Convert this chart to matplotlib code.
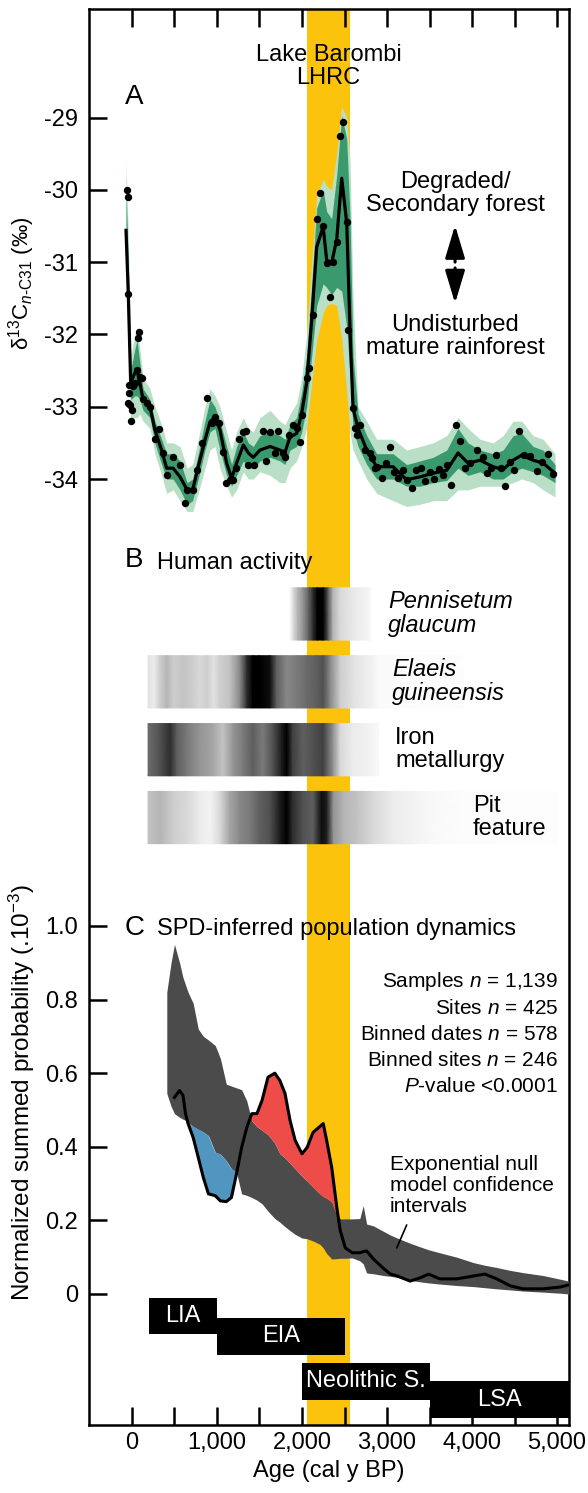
import numpy as np
import matplotlib.pyplot as plt

plt.rcParams['font.family'] = ['Liberation Sans', 'DejaVu Sans']
plt.rcParams['mathtext.fontset'] = 'custom'
plt.rcParams['mathtext.rm'] = 'Liberation Sans'
plt.rcParams['mathtext.it'] = 'Liberation Sans:italic'
plt.rcParams['axes.unicode_minus'] = False

# ---- panel A: leaf-wax d13C record -------------------------------------
yrs_a = [-70, -43, -15, 35, 60, 94, 130, 212, 270, 349, 408, 484, 565, 649, 714,
         780, 859, 918, 976, 1035, 1114, 1172, 1231, 1310, 1369, 1427, 1506, 1624,
         1741, 1800, 1859, 1937, 1996, 2055, 2114, 2173, 2249, 2290, 2349, 2408,
         2467, 2526, 2565, 2600, 2659, 2761, 2878, 3071, 3231, 3388, 3541, 3702,
         3835, 3953, 4094, 4247, 4365, 4482, 4584, 4718, 4835, 4976]
mean_a = [-30.56, -31.43, -32.67, -32.53, -32.5, -32.67, -32.9, -33.0, -33.32, -33.6,
          -33.85, -33.85, -33.97, -34.15, -34.15, -33.83, -33.46, -33.21, -33.14, -33.32,
          -33.78, -33.99, -33.78, -33.53, -33.64, -33.7, -33.6, -33.55, -33.6, -33.63,
          -33.42, -33.37, -33.09, -32.67, -31.8, -30.79, -30.51, -30.97, -31.01, -30.69,
          -29.84, -30.46, -31.94, -33.02, -33.3, -33.6, -33.83, -33.83, -34.01, -33.97,
          -33.92, -33.88, -33.64, -33.78, -33.74, -33.83, -33.87, -33.74, -33.67, -33.74,
          -33.78, -33.92]
light_hi = [-29.6, -30.6, -32.3, -32.0, -31.9, -32.2, -32.6, -32.75, -33.0, -33.25,
            -33.5, -33.5, -33.55, -33.85, -33.8, -33.45, -33.0, -32.75, -32.85, -33.0,
            -33.35, -33.6, -33.35, -33.15, -33.3, -33.35, -33.15, -33.05, -33.2, -33.25,
            -33.1, -32.95, -32.6, -32.0, -31.0, -30.1, -29.85, -29.95, -30.0, -29.5,
            -28.85, -29.0, -29.6, -31.5, -33.0, -33.2, -33.45, -33.45, -33.6, -33.55,
            -33.5, -33.4, -33.15, -33.3, -33.45, -33.5, -33.4, -33.2, -33.2, -33.4,
            -33.45, -33.65]
dark_hi = [-30.0, -31.0, -32.5, -32.2, -32.08, -32.4, -32.75, -32.9, -33.2, -33.45,
           -33.65, -33.65, -33.75, -34.05, -34.0, -33.65, -33.2, -32.9, -33.0, -33.2,
           -33.55, -33.8, -33.55, -33.35, -33.5, -33.55, -33.4, -33.35, -33.4, -33.45,
           -33.25, -33.15, -32.8, -32.3, -31.3, -30.25, -30.0, -30.3, -30.4, -29.8,
           -28.97, -29.3, -30.4, -32.3, -33.1, -33.4, -33.65, -33.65, -33.8, -33.75,
           -33.7, -33.6, -33.3, -33.5, -33.6, -33.65, -33.6, -33.4, -33.37, -33.55,
           -33.6, -33.8]
dark_lo = [-31.0, -31.9, -32.9, -32.85, -32.85, -32.9, -33.05, -33.15, -33.5, -33.8,
           -34.0, -34.0, -34.15, -34.35, -34.3, -34.0, -33.6, -33.35, -33.3, -33.6,
           -33.95, -34.1, -33.95, -33.75, -33.85, -33.85, -33.75, -33.7, -33.75, -33.8,
           -33.6, -33.55, -33.35, -33.0, -32.3, -31.6, -31.3, -31.35, -31.45, -31.35,
           -31.4, -31.9, -32.6, -33.3, -33.55, -33.8, -34.0, -34.0, -34.1, -34.1,
           -34.05, -34.02, -33.85, -33.95, -33.9, -34.0, -34.0, -33.9, -33.85, -33.9,
           -33.95, -34.05]
light_lo = [-31.3, -32.2, -33.2, -33.15, -33.15, -33.1, -33.2, -33.3, -33.65, -33.95,
            -34.2, -34.15, -34.3, -34.45, -34.45, -34.2, -33.85, -33.6, -33.55, -33.85,
            -34.1, -34.25, -34.15, -33.9, -34.0, -34.0, -33.9, -33.95, -34.05, -34.05,
            -33.85, -33.75, -33.55, -33.3, -32.67, -32.08, -31.7, -31.6, -31.57, -31.6,
            -32.06, -32.8, -33.37, -33.6, -33.75, -34.0, -34.2, -34.3, -34.38, -34.35,
            -34.3, -34.3, -34.15, -34.15, -34.1, -34.1, -34.1, -34.05, -34.0, -34.05,
            -34.15, -34.25]
dot_yr = [-63, -51, -43, -47, -39, -31, -24, -12, -4, 8,
          35, 62, 74, 86, 94, 114, 133, 173, 212, 270,
          321, 369, 408, 479, 565, 624, 643, 714, 761, 820,
          886, 937, 976, 1027, 1067, 1106, 1153, 1192, 1224, 1262,
          1302, 1341, 1369, 1439, 1545, 1576, 1624, 1682, 1722, 1773,
          1800, 1851, 1890, 1937, 1976, 1996, 2055, 2086, 2133, 2180,
          2212, 2251, 2290, 2329, 2361, 2408, 2447, 2486, 2526, 2545,
          2604, 2624, 2651, 2682, 2741, 2800, 2820, 2859, 2878, 2937,
          2988, 3035, 3082, 3133, 3184, 3231, 3290, 3341, 3396, 3447,
          3506, 3553, 3612, 3655, 3710, 3753, 3812, 3859, 3918, 3976,
          4063, 4126, 4173, 4220, 4282, 4341, 4388, 4447, 4498, 4553,
          4612, 4682, 4761, 4827, 4898, 4957]
dot_val = [-30.0, -30.1, -31.44, -32.95, -32.81, -32.7, -32.98, -33.2, -33.05, -32.72,
           -32.67, -32.49, -32.05, -31.97, -32.59, -32.6, -32.9, -32.95, -33.0, -33.45,
           -33.31, -33.64, -33.94, -33.7, -33.81, -34.33, -34.15, -34.15, -33.87, -33.5,
           -32.88, -33.23, -33.14, -33.23, -33.62, -34.06, -34.01, -34.01, -33.85, -33.44,
           -33.35, -33.34, -33.8, -33.8, -33.34, -33.75, -33.35, -33.64, -33.34, -33.64,
           -33.7, -33.39, -33.25, -33.3, -33.49, -33.11, -32.6, -32.47, -31.73, -30.41,
           -30.05, -30.5, -31.01, -31.48, -31.0, -30.72, -29.26, -29.06, -30.44, -31.94,
           -33.02, -33.3, -33.39, -33.25, -33.6, -33.64, -33.71, -33.85, -33.83, -33.99,
           -33.78, -33.56, -33.9, -33.99, -33.87, -34.01, -34.12, -33.88, -33.85, -34.03,
           -33.9, -34.0, -33.86, -33.94, -33.81, -34.08, -33.25, -33.48, -33.85, -33.78,
           -33.6, -33.7, -33.92, -33.85, -33.67, -33.85, -34.1, -33.76, -33.88, -33.33,
           -33.67, -33.68, -33.89, -33.76, -33.65, -33.93]

# ---- panel B: human activity (grey-scale density strips) ---------------
strip_names = ['Pennisetum\nglaucum', 'Elaeis\nguineensis', 'Iron\nmetallurgy', 'Pit\nfeature']
strip_italic = [True, True, False, False]
pen_yr = [1860, 1900, 1950, 2010, 2080, 2130, 2180, 2250, 2310, 2365, 2450, 2530, 2650, 2800]
pen_val = [0.05, 0.25, 0.4, 0.5, 0.7, 0.85, 1.0, 1.0, 0.7, 0.4, 0.25, 0.2, 0.15, 0.08]
ela_yr = [190, 260, 330, 410, 490, 600, 720, 800, 880, 960, 1035, 1150, 1270, 1350,
          1420, 1500, 1620, 1700, 1820, 1940, 2050, 2170, 2250, 2330, 2450, 2600,
          2840, 2900, 3300, 3900]
ela_val = [0.2, 0.15, 0.3, 0.4, 0.3, 0.35, 0.3, 0.25, 0.3, 0.2, 0.3, 0.35, 0.55, 0.85,
           1.0, 1.0, 0.95, 0.7, 0.55, 0.6, 0.65, 0.7, 0.75, 0.55, 0.3, 0.2, 0.1, 0.04,
           0.03, 0.02]
iron_yr = [190, 330, 450, 530, 650, 800, 950, 1070, 1190, 1310, 1420, 1540, 1660, 1760,
           1820, 1890, 2010, 2130, 2250, 2370, 2450, 2600, 2800, 2900]
iron_val = [0.65, 0.75, 0.85, 0.7, 0.6, 0.5, 0.45, 0.35, 0.5, 0.6, 0.7, 0.6, 0.75, 0.9,
            1.0, 0.8, 0.7, 0.75, 0.8, 0.5, 0.25, 0.15, 0.1, 0.05]
pit_yr = [190, 330, 490, 650, 800, 920, 1035, 1150, 1270, 1390, 1500, 1620, 1740, 1820,
          1890, 2010, 2130, 2230, 2290, 2370, 2490, 2650, 2840, 3070, 3310, 3540, 3860,
          4300, 5000]
pit_val = [0.35, 0.4, 0.3, 0.25, 0.15, 0.1, 0.25, 0.45, 0.55, 0.6, 0.7, 0.75, 0.9, 1.0,
           0.85, 0.75, 0.7, 0.95, 0.9, 0.5, 0.4, 0.35, 0.25, 0.15, 0.1, 0.05, 0.03,
           0.02, 0.02]

# ---- panel C: SPD vs exponential null model ----------------------------
yrs_c = [410, 460, 500, 560, 600, 630, 660, 720, 780, 840, 900, 980, 1040, 1110, 1170,
         1230, 1290, 1350, 1410, 1470, 1530, 1600, 1680, 1740, 1800, 1860, 1920, 2000,
         2060, 2130, 2210, 2250, 2290, 2350, 2410, 2450, 2510, 2590, 2680, 2720, 2760,
         2840, 2960, 3040, 3120, 3270, 3390, 3490, 3620, 3820, 4020, 4150, 4290, 4450,
         4600, 4840, 5040, 5140]
ci_hi = [0.82, 0.90, 0.95, 0.90, 0.86, 0.84, 0.82, 0.79, 0.72, 0.70, 0.69, 0.675, 0.64,
         0.57, 0.565, 0.56, 0.555, 0.525, 0.47, 0.455, 0.445, 0.433, 0.41, 0.381, 0.37,
         0.355, 0.34, 0.32, 0.307, 0.29, 0.272, 0.265, 0.26, 0.25, 0.215, 0.204, 0.204,
         0.204, 0.205, 0.24, 0.19, 0.185, 0.17, 0.16, 0.152, 0.138, 0.128, 0.12, 0.112,
         0.10, 0.085, 0.078, 0.072, 0.064, 0.058, 0.05, 0.04, 0.035]
ci_lo = [0.545, 0.51, 0.49, 0.48, 0.475, 0.472, 0.465, 0.455, 0.447, 0.44, 0.43, 0.385,
         0.38, 0.362, 0.34, 0.33, 0.272, 0.268, 0.262, 0.255, 0.245, 0.225, 0.205, 0.195,
         0.183, 0.172, 0.162, 0.152, 0.15, 0.144, 0.135, 0.125, 0.11, 0.095, 0.096, 0.097,
         0.097, 0.098, 0.09, 0.082, 0.057, 0.055, 0.05, 0.048, 0.045, 0.037, 0.033, 0.03,
         0.027, 0.023, 0.02, 0.017, 0.014, 0.011, 0.008, 0.005, 0.002, 0.0]
spd_obs = [0.534, 0.553, 0.54, 0.49, 0.463, 0.425, 0.371, 0.316, 0.272, 0.267, 0.253,
           0.251, 0.262, 0.327, 0.398, 0.452, 0.49, 0.49, 0.526, 0.589, 0.60, 0.58, 0.545,
           0.471, 0.417, 0.381, 0.398, 0.439, 0.455, 0.463, 0.417, 0.343, 0.234, 0.172,
           0.125, 0.112, 0.112, 0.115, 0.117, 0.095, 0.069, 0.054, 0.049, 0.035, 0.044,
           0.054, 0.041, 0.041, 0.049, 0.054, 0.041, 0.022, 0.014, 0.014, 0.019, 0.025]
stats_lines = ['Samples $n$ = 1,139', 'Sites $n$ = 425', 'Binned dates $n$ = 578',
               'Binned sites $n$ = 246', '$P$-value <0.0001']
periods = ['LIA', 'EIA', 'Neolithic S.', 'LSA']
period_start = [200, 1000, 2000, 3500]
period_end = [1000, 2500, 3500, 5300]
period_level = [-0.06, -0.115, -0.237, -0.287]

lhrc = (2055, 2570)
XLIM = (-505, 5140)
YELLOW = '#fcc30d'

W, H = 588, 1493


def box(left, top, right, bottom):
    # pixel box -> figure fraction rect
    return [left / W, 1 - bottom / H, (right - left) / W, (bottom - top) / H]


fig = plt.figure(figsize=(W / 100, H / 100), dpi=100)

# outer frame carrying the age axis and the LHRC band
frame = fig.add_axes(box(89, 9, 569, 1425))
frame.set_xlim(XLIM)
frame.set_ylim(0, 1)
frame.axvspan(*lhrc, color=YELLOW, lw=0)
ticks = list(range(0, 5001, 500))
frame.set_xticks(ticks)
frame.set_xticklabels([f'{t:,}' if t % 1000 == 0 else '' for t in ticks], fontsize=17)
frame.set_yticks([])
frame.tick_params(axis='x', direction='in', length=13, width=1.8, top=True, pad=5)
for s in frame.spines.values():
    s.set_linewidth(1.8)
frame.set_xlabel('Age (cal y BP)', fontsize=17, labelpad=4)


def inner_axes(rect, ylim):
    ax = fig.add_axes(rect)
    ax.patch.set_alpha(0)
    ax.set_xlim(XLIM)
    ax.set_ylim(ylim)
    ax.set_xticks([])
    for s in ax.spines.values():
        s.set_visible(False)
    ax.tick_params(axis='y', direction='in', length=13, width=1.8, labelsize=17, pad=8)
    return ax


# ---- A ----
ax_a = inner_axes(box(89, 9, 569, 520), (-34.567, -27.499))
ax_a.set_yticks([-29, -30, -31, -32, -33, -34])
ax_a.fill_between(yrs_a, light_lo, light_hi, color='#b9dfc7', lw=0)
ax_a.fill_between(yrs_a, dark_lo, dark_hi, color='#3a9a6e', lw=0)
ax_a.plot(yrs_a, mean_a, color='black', lw=2.3, zorder=3)
ax_a.plot(dot_yr, dot_val, 'o', color='black', ms=4.3, zorder=4)
ax_a.text(-82, -28.72, 'A', fontsize=20, va='center', ha='left')
ax_a.text(2312, -28.30, 'Lake Barombi\nLHRC', fontsize=17, ha='center', va='center',
          linespacing=1.05)
ax_a.text(3800, -30.05, 'Degraded/\nSecondary forest', fontsize=17, ha='center',
          va='center', linespacing=1.05)
ax_a.text(3800, -32.03, 'Undisturbed\nmature rainforest', fontsize=17, ha='center',
          va='center', linespacing=1.05)
head = '-|>,head_length=2.0,head_width=0.6'
ax_a.annotate('', xy=(3800, -30.49), xytext=(3800, -31.0),
              arrowprops=dict(arrowstyle=head, color='black', lw=2.2, mutation_scale=10,
                              shrinkA=0, shrinkB=0))
ax_a.annotate('', xy=(3800, -31.57), xytext=(3800, -31.08),
              arrowprops=dict(arrowstyle=head, color='black', lw=2.2, mutation_scale=10,
                              shrinkA=0, shrinkB=0))
fig.text(22 / W, 1 - 283 / H, 'δ$^{13}$C$_{n\\text{-C31}}$ (‰)', rotation=90,
         fontsize=16, ha='center', va='center')

# ---- B ----
ax_b = inner_axes(box(89, 580, 569, 851.5), (3.5, -0.5))
ax_b.set_yticks([])
strips = [(pen_yr, pen_val), (ela_yr, ela_val), (iron_yr, iron_val), (pit_yr, pit_val)]
label_x = [3012, 3059, 3094, 4012]
for row, ((yr, val), name, ital, lx) in enumerate(zip(strips, strip_names, strip_italic, label_x)):
    xx = np.array([yr, yr])
    yy = np.array([[row - 0.385] * len(yr), [row + 0.385] * len(yr)])
    cc = np.array([val, val])
    ax_b.pcolormesh(xx, yy, cc, shading='gouraud', cmap='Greys', vmin=0, vmax=1)
    ax_b.text(lx, row, name, fontsize=17, style='italic' if ital else 'normal',
              ha='left', va='center', linespacing=1.05)
ax_b.text(-82, -0.795, 'B', fontsize=20, va='center', ha='left')
ax_b.text(294, -0.75, 'Human activity', fontsize=17, va='center', ha='left')

# ---- C ----
ax_c = inner_axes(box(89, 870, 569, 1425), (-0.356, 1.152))
ax_c.set_yticks([0, 0.2, 0.4, 0.6, 0.8, 1.0])
ax_c.set_yticklabels(['0', '0.2', '0.4', '0.6', '0.8', '1.0'])
ax_c.fill_between(yrs_c, ci_lo, ci_hi, color='#4b4b4b', lw=0)
yo = np.array(yrs_c[2:])
obs = np.array(spd_obs)
hi = np.array(ci_hi[2:])
lo = np.array(ci_lo[2:])
ax_c.fill_between(yo, obs, hi, where=obs > hi, interpolate=True, color='#ee4c48', lw=0)
ax_c.fill_between(yo, obs, lo, where=obs < lo, interpolate=True, color='#5096c1', lw=0)
ax_c.plot(yo, obs, color='black', lw=2.2)
ax_c.text(-82, 0.995, 'C', fontsize=20, va='center', ha='left')
ax_c.text(294, 0.992, 'SPD-inferred population dynamics', fontsize=17, va='center', ha='left')
for i, line in enumerate(stats_lines):
    ax_c.text(5012, 0.848 - 0.071 * i, line, fontsize=15, ha='right', va='center')
ax_c.text(3035, 0.295, 'Exponential null\nmodel confidence\nintervals', fontsize=15,
          ha='left', va='center', linespacing=1.12)
ax_c.annotate('', xy=(3114, 0.125), xytext=(3231, 0.1875),
              arrowprops=dict(arrowstyle='-', color='black', lw=1.2, shrinkA=0, shrinkB=0))
for name, s, e, lev in zip(periods, period_start, period_end, period_level):
    ax_c.barh(lev, e - s, left=s, height=0.1, color='black')
    ax_c.text((s + min(e, XLIM[1])) / 2, lev, name, color='white', fontsize=17,
              ha='center', va='center')
fig.text(22 / W, 1 - 1093 / H, 'Normalized summed probability (.10$^{-3}$)', rotation=90,
         fontsize=17.5, ha='center', va='center')

fig.savefig('out.png', dpi=100)
